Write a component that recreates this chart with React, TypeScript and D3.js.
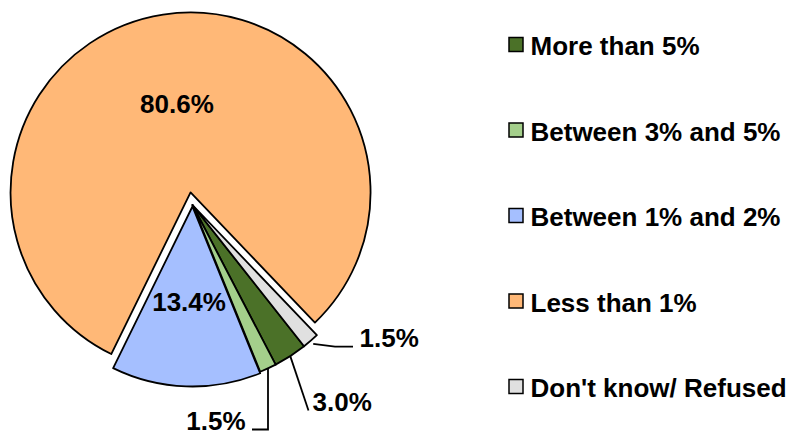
import React from "react";
import * as d3 from "d3";

const categories = ["More than 5%", "Between 3% and 5%", "Between 1% and 2%", "Less than 1%", "Don't know/ Refused"];
const values = [3.0, 1.5, 13.4, 80.6, 1.5];
const labels = ["3.0%", "1.5%", "13.4%", "80.6%", "1.5%"];
const colors = ["#4B7128", "#A4CF8B", "#A5BFFF", "#FFB877", "#E0E0E0"];

const W = 794;
const H = 433;
const CX = 192.5;
const CY = 205;
const R = 180;
const START = (141.7 * Math.PI) / 180;
const explode = [0, 0, 1.5, 12.7, 0];
const FONT = "'Liberation Sans', Arial, sans-serif";
const FS = 26;

export default function App() {
  const pie = d3
    .pie<number>()
    .sort(null)
    .value((d) => d)
    .startAngle(START)
    .endAngle(START + 2 * Math.PI);
  const arcs = pie(values);
  const arcGen = d3.arc<d3.PieArcDatum<number>>().innerRadius(0).outerRadius(R);

  const off = (a: d3.PieArcDatum<number>, i: number) => {
    const m = (a.startAngle + a.endAngle) / 2;
    return [Math.sin(m) * explode[i], -Math.cos(m) * explode[i]];
  };
  const polar = (ang: number, r: number, i: number) => {
    const [ox, oy] = off(arcs[i], i);
    return [CX + ox + Math.sin(ang) * r, CY + oy - Math.cos(ang) * r];
  };
  const mid = (i: number) => (arcs[i].startAngle + arcs[i].endAngle) / 2;

  const inside = [2, 3];
  const p0 = polar(mid(0), R, 0);
  const p1 = polar(mid(1), R, 1);
  const p4 = polar(mid(4), R + 4, 4);

  const legendY = d3.scalePoint<string>().domain(categories).range([55, 397]);

  return (
    <svg width={W} height={H} style={{ position: "absolute", left: 0, top: 0, background: "#fff" }}>
      <g>
        {arcs.map((a, i) => {
          const [ox, oy] = off(a, i);
          return (
            <path
              key={i}
              d={arcGen(a) || ""}
              transform={`translate(${CX + ox},${CY + oy})`}
              fill={colors[i]}
              stroke="#000"
              strokeWidth={1.8}
              strokeLinejoin="round"
            />
          );
        })}
      </g>
      {inside.map((i) => {
        const [x, y] = polar(mid(i), R * (i === 3 ? 0.495 : 0.53), i);
        return (
          <text key={i} x={x} y={y} dy="0.35em" textAnchor="middle" fontFamily={FONT} fontWeight="bold" fontSize={FS} fill="#000">
            {labels[i]}
          </text>
        );
      })}
      <polyline points={`${p4[0]},${p4[1]} 335,346.7 353,346.7`} fill="none" stroke="#000" strokeWidth={1.8} />
      <text x={359.5} y={346.7} fontFamily={FONT} fontWeight="bold" fontSize={FS}>{labels[4]}</text>
      <polyline points={`${p0[0]},${p0[1]} 308.5,410.5`} fill="none" stroke="#000" strokeWidth={1.8} />
      <text x={312.5} y={410.5} fontFamily={FONT} fontWeight="bold" fontSize={FS}>{labels[0]}</text>
      <polyline points={`${p1[0]},${p1[1]} ${p1[0]},429.5 252,429.5`} fill="none" stroke="#000" strokeWidth={1.8} />
      <text x={245.5} y={429.5} textAnchor="end" fontFamily={FONT} fontWeight="bold" fontSize={FS}>{labels[1]}</text>

      {categories.map((c, i) => {
        const y = legendY(c) as number;
        return (
          <g key={c}>
            <rect x={509} y={y - 17.5} width={14} height={14} fill={colors[i]} stroke="#000" strokeWidth={1.5} />
            <text x={530.5} y={y} fontFamily={FONT} fontWeight="bold" fontSize={FS} fill="#000">
              {c}
            </text>
          </g>
        );
      })}
    </svg>
  );
}
